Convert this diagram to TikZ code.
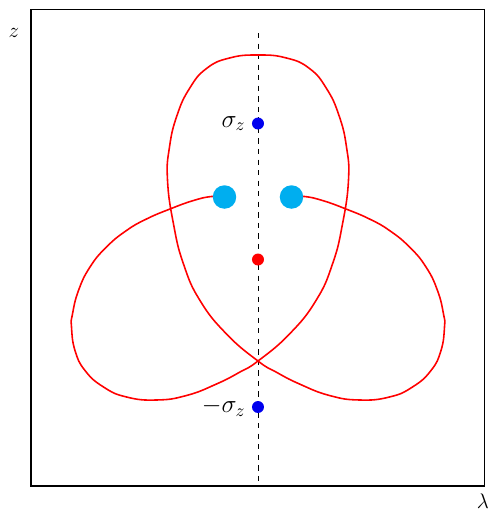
\documentclass[tikz,border=0pt]{standalone}
\usepackage{amsmath,amssymb}
\usetikzlibrary{positioning}
\definecolor{lobered}{HTML}{FF0000}
\definecolor{spinblue}{HTML}{0000EE}
\definecolor{skyblue}{HTML}{00AEEF}

\begin{document}
\begin{tikzpicture}[
  dot/.style={circle, inner sep=0pt, minimum size=#1},
  dot/.default=2.4mm,
  lbl/.style={font=\large}]
\useasboundingbox (-5.16,-5.05) rectangle (4.64,5.19);

% Frame
\draw[line width=0.9pt] (-4.54,-4.53) rectangle (4.53,5.0);
\node[lbl] (zlab) at (-4.88,4.53) {$z$};
\node[lbl, inner sep=0pt] (llab) at (4.5,-4.84) {$\lambda$};

% Symmetry axis
\coordinate (axtop) at (0,4.53);
\coordinate (axbot) at (0,-4.53);
\draw[dashed, line width=0.5pt] (axtop) -- (axbot);

% Three-lobed curve
\draw[lobered, line width=0.9pt] plot[smooth, tension=0.8] coordinates {
  (-0.69,1.25) (-0.93,1.26) (-1.29,1.18) (-1.76,1.01) (-2.23,0.81) (-2.63,0.58)
  (-3.03,0.25) (-3.36,-0.15) (-3.59,-0.62) (-3.71,-1.09) (-3.73,-1.35) (-3.66,-1.82)
  (-3.46,-2.22) (-3.09,-2.55) (-2.63,-2.75) (-2.03,-2.81) (-1.43,-2.72) (-0.83,-2.49)
  (-0.36,-2.25) (0,-2.03)
  (0.63,-1.49) (1.16,-0.82) (1.49,-0.09) (1.69,0.71) (1.81,1.59) (1.77,2.25)
  (1.62,2.88) (1.37,3.42) (1.03,3.82) (0.57,4.03) (0,4.09)
  (-0.57,4.03) (-1.03,3.82) (-1.37,3.42) (-1.62,2.88) (-1.77,2.25) (-1.81,1.59)
  (-1.69,0.71) (-1.49,-0.09) (-1.16,-0.82) (-0.63,-1.49) (0,-2.03)
  (0.36,-2.25) (0.83,-2.49) (1.43,-2.72) (2.03,-2.81) (2.63,-2.75) (3.09,-2.55)
  (3.46,-2.22) (3.66,-1.82) (3.73,-1.35) (3.71,-1.09) (3.59,-0.62) (3.36,-0.15)
  (3.03,0.25) (2.63,0.58) (2.23,0.81) (1.76,1.01) (1.29,1.18) (0.93,1.26) (0.69,1.25)};

% Points on the axis and curve ends
\node[dot, fill=lobered] (ctr) at (0,0) {};
\node[dot, fill=spinblue] (szp) at (0,2.72) {};
\node[dot, fill=spinblue] (szm) at (0,-2.95) {};
\node[dot=4.7mm, fill=skyblue] (lend) at (-0.67,1.25) {};
\node[dot=4.7mm, fill=skyblue] (rend) at (0.67,1.25) {};
\node[font=\Large, left=0pt of szp] (szplab) {$\sigma_z$};
\node[font=\Large, left=0pt of szm] (szmlab) {$-\sigma_z$};

\end{tikzpicture}
\end{document}
